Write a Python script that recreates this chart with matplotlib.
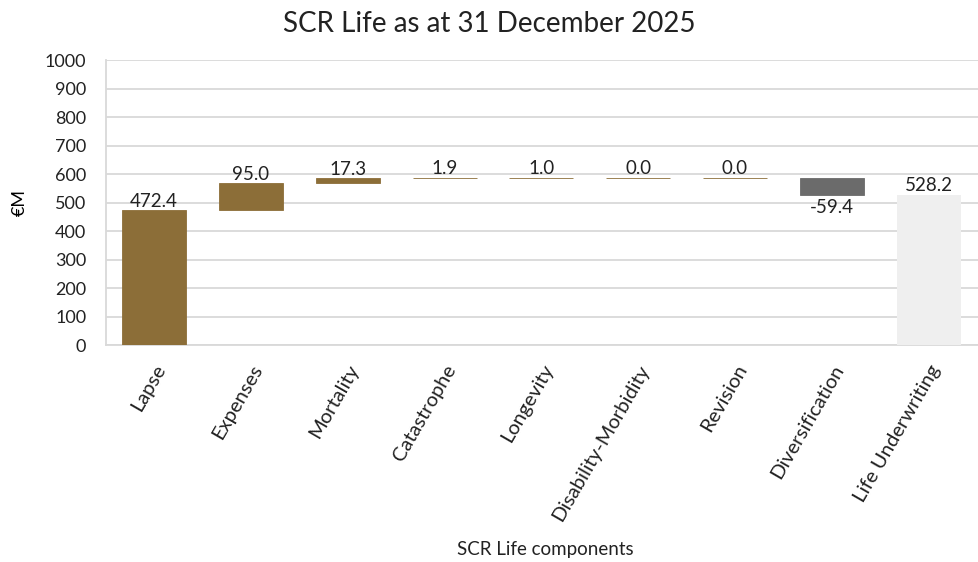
import numpy as np
import matplotlib.pyplot as plt

plt.rcParams['font.family'] = ['Lato', 'DejaVu Sans']

# SCR Life components (EUR millions)
components = ['Lapse', 'Expenses', 'Mortality', 'Catastrophe', 'Longevity',
              'Disability-Morbidity', 'Revision', 'Diversification', 'Life Underwriting']
values = np.array([472.4, 95.0, 17.3, 1.9, 1.0, 0.0, 0.0, -59.4])
total = 528.2

brown = '#8C6E38'
grey = '#6B6B6B'
light = '#EFEFEF'

# waterfall: each step starts where the previous ended
starts = np.concatenate(([0.], np.cumsum(values)[:-1]))
bottoms = np.where(values >= 0, starts, starts + values)
heights = np.abs(values)
colors = [brown] * 7 + [grey]

fig = plt.figure(figsize=(9.79, 5.62), dpi=100)
ax = fig.add_axes([0.108, 0.386, 0.892, 0.507])

x = np.arange(len(components))
w = 0.66
ax.bar(x[:-1], heights, w, bottom=bottoms, color=colors,
       edgecolor=colors, linewidth=0.6, zorder=3)
ax.bar(x[-1], total, w, color=light, zorder=3)

fs = 13.5
for i, (v, b, h) in enumerate(zip(values, bottoms, heights)):
    if v >= 0:
        ax.text(i, b + h + 3, f'{v:.1f}', ha='center', va='bottom', fontsize=fs, color='#222222')
    else:
        ax.text(i, b - 14, f'{v:.1f}', ha='center', va='top', fontsize=fs, color='#222222')
ax.text(x[-1], total + 3, f'{total:.1f}', ha='center', va='bottom', fontsize=fs, color='#222222')

ax.set_ylim(0, 1000)
ax.set_xlim(-0.5, len(components) - 0.5 + 0.02)
ax.set_yticks(np.arange(0, 1001, 100))
ax.yaxis.grid(True, color='#D9D9D9', linewidth=1.3, zorder=0)
ax.set_axisbelow(True)
ax.tick_params(axis='both', length=0, labelsize=13, colors='#222222')
ax.tick_params(axis='y', pad=14)
ax.tick_params(axis='x', pad=12, labelsize=14.5)
ax.set_xticks(x)
ax.set_xticklabels(components, rotation=60, ha='right', rotation_mode='anchor')
for s in ['top', 'right']:
    ax.spines[s].set_visible(False)
for s in ['left', 'bottom']:
    ax.spines[s].set_color('#D9D9D9')
    ax.spines[s].set_linewidth(1.3)

ax.set_ylabel('€M', fontsize=13, labelpad=12)
fig.text(0.557, 0.008, 'SCR Life components', ha='center', va='bottom', fontsize=13.5, color='#222222')
fig.text(0.5, 0.958, 'SCR Life as at 31 December 2025', ha='center', va='center', fontsize=20, color='#222222')

fig.savefig('out.png', dpi=100)
